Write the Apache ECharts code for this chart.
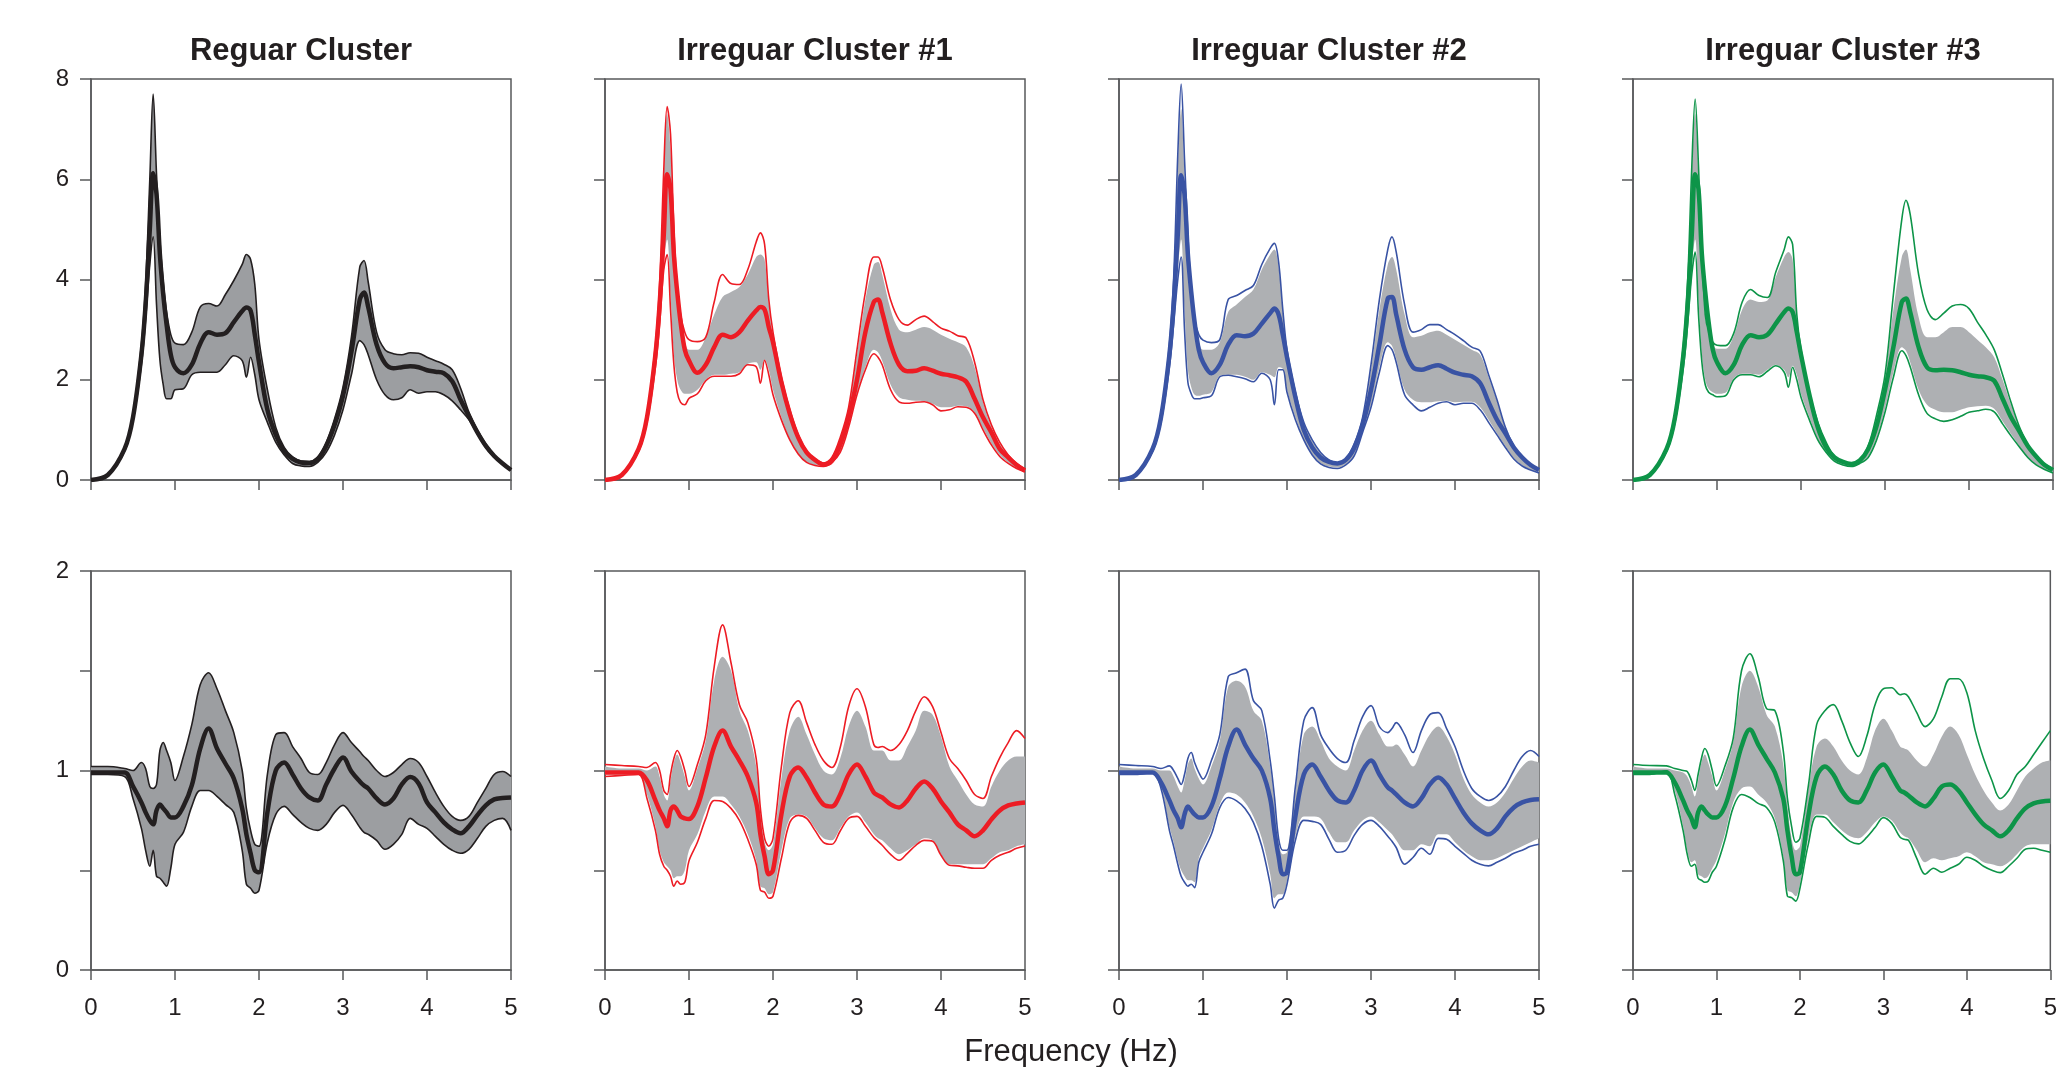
<!DOCTYPE html>
<html>
<head>
<meta charset="utf-8">
<title>Cluster spectra</title>
<script src="https://cdn.jsdelivr.net/npm/echarts@6/dist/echarts.min.js"></script>
<style>
  html, body { margin: 0; padding: 0; background: #fff; }
  #chart { width: 2060px; height: 1067px; }
</style>
</head>
<body>
<div id="chart"></div>
<script>
// frequency grid (Hz) - every curve below is sampled on it
const freq = [0, 0.2, 0.4, 0.5, 0.6, 0.65, 0.7, 0.74, 0.78, 0.82,
    0.86, 0.9, 0.95, 1.0, 1.1, 1.2, 1.3, 1.4, 1.5, 1.6,
    1.7, 1.8, 1.85, 1.9, 1.95, 2.0, 2.1, 2.2, 2.3, 2.4,
    2.5, 2.6, 2.7, 2.8, 2.9, 3.0, 3.1, 3.2, 3.25, 3.3,
    3.4, 3.5, 3.6, 3.7, 3.8, 3.9, 4.0, 4.1, 4.2, 4.3,
    4.4, 4.5, 4.6, 4.7, 4.8, 4.9, 5.0];

const titles = ["Reguar Cluster", "Irreguar Cluster #1", "Irreguar Cluster #2", "Irreguar Cluster #3"];
const xTicks = [0, 1, 2, 3, 4, 5];
const topTicks = [0, 2, 4, 6, 8];
const botTicks = [0, 1, 2];

// ===== top row =====
// Reguar Cluster
const regTopMean = [0, 0.1, 0.62, 1.25, 2.5, 3.5, 5.0, 6.12, 5.7, 4.5,
    3.7, 3.1, 2.5, 2.25, 2.13, 2.3, 2.72, 2.95, 2.9, 2.93,
    3.15, 3.37, 3.44, 3.38, 2.9, 2.35, 1.4, 0.9, 0.58, 0.42,
    0.35, 0.34, 0.42, 0.68, 1.1, 1.68, 2.55, 3.6, 3.74, 3.45,
    2.7, 2.33, 2.23, 2.25, 2.27, 2.25, 2.19, 2.16, 2.13, 1.97,
    1.6, 1.27, 0.95, 0.68, 0.48, 0.33, 0.2];
const regTopHi = [0, 0.1, 0.64, 1.3, 2.7, 3.9, 6.0, 7.7, 6.1, 4.8,
    3.95, 3.35, 2.9, 2.73, 2.7, 2.95, 3.45, 3.52, 3.47, 3.7,
    3.98, 4.3, 4.5, 4.4, 3.9, 2.8, 1.8, 1.05, 0.65, 0.46,
    0.38, 0.37, 0.46, 0.75, 1.22, 1.85, 2.85, 4.25, 4.38, 3.95,
    2.95, 2.6, 2.52, 2.5, 2.54, 2.53, 2.45, 2.38, 2.31, 2.2,
    1.83, 1.35, 1.0, 0.72, 0.5, 0.35, 0.22];
const regTopLo = [0, 0.09, 0.58, 1.18, 2.3, 3.2, 4.3, 4.85, 3.5, 2.4,
    1.9, 1.62, 1.62, 1.8, 1.82, 2.1, 2.15, 2.15, 2.15, 2.3,
    2.48, 2.38, 2.05, 2.45, 2.1, 1.6, 1.15, 0.75, 0.5, 0.33,
    0.28, 0.27, 0.35, 0.55, 0.9, 1.4, 2.1, 2.78, 2.7, 2.5,
    2.0, 1.7, 1.6, 1.64, 1.8, 1.73, 1.76, 1.76, 1.7, 1.58,
    1.4, 1.2, 0.92, 0.65, 0.46, 0.32, 0.19];

// Irreguar Cluster #1
const ir1TopMean = [0, 0.1, 0.62, 1.25, 2.5, 3.5, 4.9, 6.1, 5.8, 4.5,
    3.75, 3.15, 2.6, 2.38, 2.14, 2.3, 2.65, 2.9, 2.85, 2.95,
    3.18, 3.38, 3.45, 3.4, 3.05, 2.75, 1.95, 1.32, 0.85, 0.55,
    0.4, 0.31, 0.38, 0.7, 1.25, 2.0, 2.95, 3.55, 3.6, 3.35,
    2.72, 2.3, 2.17, 2.18, 2.23, 2.18, 2.12, 2.09, 2.05, 1.96,
    1.62, 1.25, 0.95, 0.62, 0.45, 0.3, 0.19];
const ir1TopHi = [0, 0.1, 0.64, 1.3, 2.7, 3.9, 6.2, 7.45, 6.9, 5.0,
    3.85, 3.3, 2.95, 2.8, 2.76, 2.85, 3.55, 4.1, 3.92, 3.9,
    4.2, 4.75, 4.93, 4.7, 3.6, 2.95, 2.05, 1.4, 0.9, 0.58,
    0.42, 0.34, 0.45, 0.85, 1.45, 2.6, 3.75, 4.45, 4.45, 4.25,
    3.59, 3.2, 3.09, 3.2, 3.27, 3.16, 3.03, 2.97, 2.88, 2.83,
    2.35, 1.6, 1.1, 0.75, 0.5, 0.33, 0.22];
const ir1TopLo = [0, 0.09, 0.57, 1.15, 2.25, 3.1, 4.2, 4.5, 3.4, 2.3,
    1.75, 1.55, 1.5, 1.63, 1.72, 1.98, 2.07, 2.07, 2.07, 2.12,
    2.3, 2.26, 1.93, 2.39, 2.1, 1.7, 1.2, 0.8, 0.52, 0.35,
    0.29, 0.27, 0.35, 0.55, 1.05, 1.7, 2.2, 2.52, 2.45, 2.3,
    1.8, 1.56, 1.53, 1.55, 1.56, 1.5, 1.38, 1.4, 1.46, 1.45,
    1.33, 1.0, 0.7, 0.47, 0.33, 0.23, 0.16];
// extent of the gray individual curves
const ir1TopBandHi = [0, 0.1, 0.63, 1.28, 2.65, 3.8, 6.0, 7.3, 6.6, 4.9,
    3.7, 3.1, 2.75, 2.6, 2.6, 2.85, 3.3, 3.65, 3.75, 3.85,
    4.1, 4.45, 4.5, 4.4, 3.5, 2.85, 2.0, 1.38, 0.88, 0.57,
    0.41, 0.33, 0.43, 0.82, 1.42, 2.5, 3.6, 4.3, 4.35, 4.1,
    3.4, 3.0, 2.95, 3.0, 3.05, 3.0, 2.9, 2.82, 2.75, 2.65,
    2.25, 1.55, 1.06, 0.72, 0.49, 0.32, 0.21];
const ir1TopBandLo = [0, 0.09, 0.58, 1.17, 2.3, 3.2, 4.4, 4.8, 3.7, 2.5,
    2.0, 1.8, 1.72, 1.72, 1.8, 2.0, 2.1, 2.1, 2.12, 2.15,
    2.32, 2.35, 2.2, 2.4, 2.2, 1.8, 1.25, 0.82, 0.53, 0.36,
    0.3, 0.28, 0.36, 0.58, 1.08, 1.72, 2.25, 2.6, 2.55, 2.38,
    1.9, 1.65, 1.6, 1.58, 1.57, 1.52, 1.45, 1.45, 1.48, 1.47,
    1.35, 1.03, 0.73, 0.5, 0.35, 0.24, 0.17];

// Irreguar Cluster #2
const ir2TopMean = [0, 0.1, 0.62, 1.25, 2.5, 3.5, 4.9, 6.08, 5.7, 4.5,
    3.75, 3.15, 2.6, 2.35, 2.13, 2.3, 2.7, 2.89, 2.87, 2.92,
    3.12, 3.33, 3.42, 3.3, 2.9, 2.45, 1.65, 1.0, 0.65, 0.45,
    0.36, 0.33, 0.4, 0.64, 1.1, 1.8, 2.7, 3.62, 3.65, 3.3,
    2.6, 2.25, 2.2, 2.25, 2.29, 2.22, 2.14, 2.1, 2.07, 1.93,
    1.55, 1.2, 0.93, 0.65, 0.45, 0.3, 0.2];
const ir2TopHi = [0, 0.1, 0.64, 1.3, 2.7, 4.0, 6.5, 7.9, 6.4, 4.9,
    3.75, 3.2, 2.9, 2.79, 2.74, 2.8, 3.6, 3.68, 3.78, 3.88,
    4.3, 4.62, 4.72, 4.35, 3.4, 2.6, 1.75, 1.15, 0.8, 0.55,
    0.4, 0.34, 0.42, 0.72, 1.25, 2.3, 3.6, 4.6, 4.85, 4.55,
    3.5, 2.95, 3.0, 3.1, 3.1, 3.0, 2.9, 2.78, 2.65, 2.57,
    2.1, 1.6, 1.05, 0.68, 0.45, 0.3, 0.21];
const ir2TopLo = [0, 0.09, 0.57, 1.15, 2.25, 3.1, 4.0, 4.45, 3.0, 1.95,
    1.72, 1.62, 1.62, 1.64, 1.68, 2.06, 2.09, 2.06, 2.02, 1.96,
    2.13, 2.0, 1.5, 2.2, 2.2, 1.75, 1.2, 0.8, 0.5, 0.32,
    0.25, 0.23, 0.3, 0.48, 0.95, 1.45, 2.15, 2.68, 2.6, 2.35,
    1.7, 1.5, 1.38, 1.45, 1.53, 1.56, 1.5, 1.53, 1.53, 1.4,
    1.15, 0.9, 0.65, 0.42, 0.28, 0.2, 0.14];
const ir2TopBandHi = [0, 0.1, 0.63, 1.28, 2.65, 3.9, 6.2, 7.4, 6.1, 4.75,
    3.65, 3.05, 2.75, 2.6, 2.6, 2.75, 3.35, 3.5, 3.65, 3.8,
    4.2, 4.5, 4.6, 4.25, 3.35, 2.55, 1.72, 1.12, 0.78, 0.53,
    0.39, 0.33, 0.41, 0.7, 1.22, 2.2, 3.4, 4.3, 4.45, 4.2,
    3.3, 2.85, 2.88, 2.95, 2.98, 2.9, 2.8, 2.7, 2.6, 2.5,
    2.05, 1.57, 1.03, 0.67, 0.45, 0.3, 0.21];
const ir2TopBandLo = [0, 0.09, 0.58, 1.17, 2.3, 3.2, 4.2, 4.8, 3.4, 2.2,
    1.85, 1.7, 1.68, 1.7, 1.75, 2.08, 2.1, 2.1, 2.06, 2.0,
    2.15, 2.1, 2.05, 2.25, 2.22, 1.8, 1.25, 0.82, 0.52, 0.34,
    0.27, 0.25, 0.32, 0.5, 0.98, 1.5, 2.25, 2.75, 2.68, 2.42,
    1.8, 1.6, 1.55, 1.55, 1.57, 1.58, 1.55, 1.56, 1.56, 1.45,
    1.2, 0.93, 0.68, 0.44, 0.3, 0.21, 0.15];

// Irreguar Cluster #3
const ir3TopMean = [0, 0.1, 0.62, 1.25, 2.5, 3.5, 4.9, 6.1, 5.8, 4.5,
    3.75, 3.15, 2.6, 2.35, 2.13, 2.3, 2.7, 2.89, 2.85, 2.9,
    3.12, 3.35, 3.42, 3.35, 2.95, 2.5, 1.7, 1.05, 0.65, 0.45,
    0.36, 0.32, 0.39, 0.62, 1.08, 1.8, 2.65, 3.55, 3.62, 3.35,
    2.65, 2.25, 2.19, 2.2, 2.19, 2.15, 2.1, 2.07, 2.05, 1.98,
    1.62, 1.25, 0.97, 0.68, 0.47, 0.3, 0.2];
const ir3TopHi = [0, 0.1, 0.64, 1.3, 2.7, 3.95, 6.25, 7.6, 6.25, 4.5,
    3.3, 2.95, 2.75, 2.69, 2.68, 2.93, 3.55, 3.8, 3.68, 3.64,
    4.15, 4.6, 4.85, 4.7, 3.3, 2.6, 1.75, 1.15, 0.75, 0.47,
    0.37, 0.33, 0.4, 0.68, 1.3, 2.1, 3.7, 5.2, 5.58, 5.3,
    4.1, 3.4, 3.2, 3.33, 3.47, 3.5, 3.42, 3.15, 2.9, 2.6,
    2.1, 1.55, 1.06, 0.7, 0.47, 0.32, 0.22];
const ir3TopLo = [0, 0.09, 0.57, 1.15, 2.25, 3.1, 4.1, 4.55, 3.3, 2.35,
    1.9, 1.75, 1.7, 1.66, 1.68, 2.0, 2.1, 2.1, 2.06, 2.17,
    2.28, 2.15, 1.85, 2.25, 2.0, 1.65, 1.2, 0.8, 0.55, 0.37,
    0.3, 0.27, 0.33, 0.45, 0.8, 1.35, 2.05, 2.58, 2.48, 2.26,
    1.7, 1.33, 1.22, 1.17, 1.2, 1.27, 1.35, 1.38, 1.41, 1.36,
    1.12, 0.88, 0.66, 0.45, 0.3, 0.21, 0.14];
const ir3TopBandHi = [0, 0.1, 0.63, 1.28, 2.65, 3.85, 6.05, 7.3, 6.0, 4.4,
    3.25, 2.9, 2.7, 2.62, 2.62, 2.88, 3.4, 3.6, 3.55, 3.58,
    4.05, 4.45, 4.55, 4.4, 3.25, 2.55, 1.72, 1.12, 0.73, 0.46,
    0.36, 0.32, 0.39, 0.66, 1.25, 2.05, 3.4, 4.45, 4.6, 4.2,
    3.25, 2.85, 2.85, 2.95, 3.05, 3.05, 2.95, 2.8, 2.65, 2.45,
    2.0, 1.5, 1.03, 0.68, 0.46, 0.31, 0.21];
const ir3TopBandLo = [0, 0.09, 0.58, 1.17, 2.3, 3.2, 4.3, 4.8, 3.6, 2.5,
    2.0, 1.82, 1.75, 1.72, 1.74, 2.03, 2.12, 2.12, 2.1, 2.2,
    2.3, 2.2, 2.05, 2.28, 2.1, 1.72, 1.25, 0.82, 0.56, 0.38,
    0.31, 0.28, 0.34, 0.48, 0.85, 1.42, 2.15, 2.65, 2.58, 2.35,
    1.8, 1.5, 1.4, 1.35, 1.35, 1.4, 1.45, 1.47, 1.48, 1.42,
    1.17, 0.92, 0.68, 0.46, 0.31, 0.22, 0.15];

// ===== bottom row =====
// Reguar Cluster
const regBotMean = [0.99, 0.99, 0.99, 0.92, 0.84, 0.79, 0.75, 0.73, 0.8, 0.83,
    0.81, 0.79, 0.765, 0.765, 0.82, 0.925, 1.11, 1.21, 1.11, 1.035,
    0.96, 0.81, 0.68, 0.585, 0.5, 0.49, 0.79, 1.0, 1.04, 0.98,
    0.91, 0.865, 0.85, 0.93, 1.01, 1.065, 0.995, 0.945, 0.925, 0.91,
    0.86, 0.83, 0.86, 0.93, 0.967, 0.935, 0.84, 0.79, 0.74, 0.705,
    0.685, 0.72, 0.776, 0.825, 0.855, 0.862, 0.865];
const regBotHi = [1.02, 1.02, 1.01, 1.0, 1.04, 1.01, 0.92, 0.91, 0.93, 1.1,
    1.14, 1.1, 1.04, 0.95, 1.07, 1.23, 1.43, 1.49, 1.41, 1.3,
    1.19, 1.0, 0.81, 0.7, 0.63, 0.62, 0.98, 1.18, 1.19, 1.12,
    1.06, 0.99, 0.98, 1.04, 1.13, 1.19, 1.14, 1.095, 1.07, 1.05,
    1.0, 0.97, 0.99, 1.03, 1.06, 1.04, 0.97, 0.89, 0.82, 0.77,
    0.75, 0.77, 0.84, 0.91, 0.98, 0.995, 0.97];
const regBotLo = [0.98, 0.98, 0.97, 0.86, 0.71, 0.6, 0.52, 0.6, 0.47, 0.46,
    0.44, 0.42, 0.51, 0.63, 0.69, 0.82, 0.9, 0.9, 0.87, 0.83,
    0.79, 0.6, 0.43, 0.41, 0.385, 0.4, 0.64, 0.78, 0.82, 0.78,
    0.74, 0.71, 0.7, 0.73, 0.79, 0.825, 0.78, 0.715, 0.69, 0.68,
    0.65, 0.605, 0.63, 0.68, 0.76, 0.73, 0.71, 0.67, 0.63, 0.6,
    0.585, 0.605, 0.66, 0.72, 0.75, 0.76, 0.7];

// Irreguar Cluster #1
const ir1BotMean = [0.99, 0.99, 0.99, 0.95, 0.85, 0.8, 0.76, 0.72, 0.8, 0.82,
    0.8, 0.77, 0.76, 0.757, 0.82, 0.965, 1.12, 1.2, 1.12, 1.05,
    0.97, 0.84, 0.68, 0.57, 0.48, 0.5, 0.78, 0.97, 1.015, 0.965,
    0.89, 0.83, 0.82, 0.88, 0.98, 1.03, 0.97, 0.89, 0.875, 0.865,
    0.83, 0.815, 0.85, 0.91, 0.945, 0.91, 0.845, 0.79, 0.73, 0.7,
    0.67, 0.7, 0.755, 0.8, 0.825, 0.835, 0.84];
const ir1BotHi = [1.03, 1.025, 1.02, 1.015, 1.04, 1.0, 0.9, 0.88, 0.98, 1.06,
    1.1, 1.07, 1.0, 0.92, 1.03, 1.18, 1.52, 1.73, 1.54, 1.33,
    1.24, 1.06, 0.81, 0.66, 0.62, 0.66, 1.02, 1.29, 1.35, 1.24,
    1.13, 1.05, 1.015, 1.115, 1.32, 1.41, 1.32, 1.13, 1.115, 1.12,
    1.1, 1.13, 1.2, 1.3, 1.37, 1.32, 1.19, 1.06, 1.01, 0.95,
    0.88, 0.86, 0.97, 1.065, 1.14, 1.2, 1.16];
const ir1BotLo = [0.97, 0.975, 0.98, 0.86, 0.7, 0.58, 0.52, 0.5, 0.47, 0.42,
    0.446, 0.43, 0.44, 0.547, 0.64, 0.76, 0.85, 0.845, 0.81, 0.75,
    0.655, 0.53, 0.4, 0.39, 0.36, 0.37, 0.56, 0.74, 0.775, 0.76,
    0.7, 0.64, 0.63, 0.697, 0.76, 0.77, 0.72, 0.664, 0.645, 0.625,
    0.58, 0.55, 0.585, 0.625, 0.65, 0.645, 0.575, 0.525, 0.522, 0.515,
    0.51, 0.51, 0.55, 0.575, 0.59, 0.61, 0.622];
const ir1BotBandHi = [1.02, 1.01, 1.01, 1.0, 1.02, 0.97, 0.88, 0.85, 0.95, 1.04,
    1.08, 1.04, 0.97, 0.9, 1.01, 1.15, 1.45, 1.57, 1.5, 1.3,
    1.2, 1.02, 0.79, 0.64, 0.6, 0.63, 0.96, 1.2, 1.27, 1.18,
    1.08, 1.0, 0.98, 1.06, 1.22, 1.3, 1.22, 1.1, 1.1, 1.1,
    1.05, 1.05, 1.12, 1.2, 1.3, 1.28, 1.17, 1.02, 0.95, 0.88,
    0.83, 0.82, 0.92, 1.0, 1.05, 1.07, 1.07];
const ir1BotBandLo = [0.98, 0.98, 0.98, 0.88, 0.72, 0.6, 0.54, 0.52, 0.5, 0.46,
    0.47, 0.47, 0.5, 0.6, 0.68, 0.8, 0.87, 0.87, 0.83, 0.77,
    0.68, 0.55, 0.42, 0.41, 0.38, 0.39, 0.6, 0.76, 0.78, 0.77,
    0.71, 0.66, 0.65, 0.71, 0.77, 0.79, 0.74, 0.68, 0.66, 0.65,
    0.61, 0.58, 0.6, 0.63, 0.66, 0.65, 0.58, 0.53, 0.53, 0.53,
    0.53, 0.53, 0.56, 0.59, 0.6, 0.62, 0.63];

// Irreguar Cluster #2
const ir2BotMean = [0.99, 0.99, 0.99, 0.94, 0.85, 0.8, 0.76, 0.715, 0.78, 0.82,
    0.8, 0.78, 0.765, 0.765, 0.82, 0.96, 1.12, 1.205, 1.13, 1.06,
    1.0, 0.86, 0.7, 0.57, 0.48, 0.49, 0.77, 0.98, 1.03, 0.97,
    0.9, 0.85, 0.84, 0.9, 1.0, 1.05, 0.98, 0.915, 0.9, 0.88,
    0.84, 0.82, 0.86, 0.93, 0.965, 0.93, 0.86, 0.79, 0.735, 0.7,
    0.68, 0.71, 0.77, 0.815, 0.84, 0.852, 0.856];
const ir2BotHi = [1.03, 1.025, 1.02, 1.01, 1.023, 1.0, 0.96, 0.93, 0.98, 1.06,
    1.09, 1.04, 0.99, 0.957, 1.05, 1.18, 1.47, 1.49, 1.508, 1.35,
    1.3, 1.05, 0.87, 0.66, 0.6, 0.6, 0.92, 1.25, 1.315, 1.18,
    1.11, 1.06, 1.04, 1.15, 1.27, 1.325, 1.22, 1.19, 1.21, 1.24,
    1.18, 1.09, 1.2, 1.28, 1.29, 1.21, 1.12, 1.0, 0.91, 0.87,
    0.85, 0.87, 0.92, 1.0, 1.07, 1.1, 1.07];
const ir2BotLo = [0.98, 0.98, 0.99, 0.91, 0.7, 0.62, 0.53, 0.47, 0.44, 0.42,
    0.43, 0.413, 0.54, 0.59, 0.68, 0.814, 0.865, 0.848, 0.81, 0.74,
    0.62, 0.43, 0.31, 0.35, 0.36, 0.43, 0.65, 0.75, 0.745, 0.73,
    0.655, 0.59, 0.6, 0.675, 0.73, 0.75, 0.72, 0.67, 0.645, 0.614,
    0.53, 0.564, 0.61, 0.58, 0.66, 0.655, 0.62, 0.585, 0.55, 0.53,
    0.522, 0.54, 0.56, 0.585, 0.6, 0.62, 0.63];
const ir2BotBandHi = [1.02, 1.01, 1.01, 1.0, 1.0, 0.97, 0.92, 0.89, 0.95, 1.03,
    1.06, 1.01, 0.96, 0.93, 1.02, 1.15, 1.42, 1.45, 1.42, 1.3,
    1.25, 1.02, 0.84, 0.64, 0.58, 0.59, 0.9, 1.18, 1.22, 1.15,
    1.06, 1.02, 1.0, 1.1, 1.2, 1.25, 1.18, 1.12, 1.12, 1.13,
    1.08, 1.02, 1.1, 1.18, 1.22, 1.17, 1.08, 0.96, 0.88, 0.84,
    0.82, 0.84, 0.89, 0.96, 1.02, 1.05, 1.04];
const ir2BotBandLo = [0.98, 0.98, 0.99, 0.92, 0.72, 0.64, 0.55, 0.5, 0.47, 0.45,
    0.45, 0.44, 0.56, 0.61, 0.7, 0.83, 0.89, 0.88, 0.84, 0.77,
    0.66, 0.48, 0.36, 0.38, 0.38, 0.45, 0.67, 0.77, 0.77, 0.76,
    0.69, 0.64, 0.64, 0.7, 0.75, 0.77, 0.74, 0.7, 0.68, 0.65,
    0.6, 0.6, 0.63, 0.62, 0.68, 0.68, 0.64, 0.6, 0.57, 0.55,
    0.55, 0.56, 0.58, 0.6, 0.62, 0.64, 0.66];

// Irreguar Cluster #3
const ir3BotMean = [0.99, 0.99, 0.99, 0.94, 0.85, 0.8, 0.76, 0.715, 0.79, 0.82,
    0.8, 0.78, 0.765, 0.765, 0.82, 0.96, 1.12, 1.205, 1.13, 1.06,
    0.99, 0.86, 0.7, 0.57, 0.48, 0.49, 0.77, 0.97, 1.02, 0.98,
    0.9, 0.85, 0.84, 0.9, 0.99, 1.03, 0.97, 0.9, 0.89, 0.875,
    0.84, 0.82, 0.86, 0.92, 0.93, 0.9, 0.84, 0.78, 0.73, 0.7,
    0.67, 0.7, 0.76, 0.81, 0.835, 0.845, 0.848];
const ir3BotHi = [1.03, 1.025, 1.023, 1.01, 1.0, 0.995, 0.95, 0.9, 0.98, 1.06,
    1.11, 1.08, 1.0, 0.923, 1.02, 1.16, 1.5, 1.585, 1.47, 1.31,
    1.3, 1.1, 0.86, 0.72, 0.64, 0.66, 0.92, 1.23, 1.3, 1.33,
    1.25, 1.14, 1.07, 1.17, 1.33, 1.41, 1.415, 1.38, 1.385, 1.37,
    1.29, 1.22, 1.26, 1.37, 1.46, 1.46, 1.39, 1.2, 1.06, 0.95,
    0.86, 0.9, 0.98, 1.02, 1.08, 1.14, 1.2];
const ir3BotLo = [0.98, 0.98, 0.998, 0.88, 0.7, 0.58, 0.52, 0.53, 0.46, 0.45,
    0.44, 0.445, 0.49, 0.52, 0.65, 0.814, 0.88, 0.865, 0.835, 0.815,
    0.74, 0.55, 0.37, 0.363, 0.345, 0.41, 0.63, 0.77, 0.765, 0.72,
    0.68, 0.645, 0.632, 0.665, 0.714, 0.764, 0.735, 0.665, 0.655, 0.65,
    0.56, 0.48, 0.51, 0.49, 0.51, 0.53, 0.565, 0.55, 0.52, 0.5,
    0.488, 0.52, 0.56, 0.605, 0.61, 0.6, 0.59];
const ir3BotBandHi = [1.02, 1.01, 1.01, 1.0, 0.99, 0.97, 0.92, 0.87, 0.95, 1.04,
    1.08, 1.04, 0.97, 0.9, 1.0, 1.14, 1.42, 1.5, 1.42, 1.28,
    1.22, 1.03, 0.82, 0.66, 0.6, 0.62, 0.9, 1.12, 1.16, 1.12,
    1.05, 1.0, 0.98, 1.06, 1.2, 1.26, 1.2, 1.12, 1.11, 1.1,
    1.05, 1.02, 1.08, 1.17, 1.22, 1.18, 1.08, 0.98, 0.9, 0.84,
    0.8, 0.83, 0.9, 0.97, 1.01, 1.04, 1.05];
const ir3BotBandLo = [0.98, 0.98, 0.99, 0.9, 0.72, 0.6, 0.54, 0.55, 0.48, 0.47,
    0.46, 0.47, 0.51, 0.55, 0.68, 0.84, 0.91, 0.92, 0.88, 0.84,
    0.76, 0.57, 0.4, 0.39, 0.37, 0.43, 0.66, 0.78, 0.78, 0.74,
    0.7, 0.67, 0.66, 0.69, 0.74, 0.77, 0.75, 0.69, 0.67, 0.66,
    0.6, 0.54, 0.56, 0.55, 0.56, 0.57, 0.59, 0.57, 0.54, 0.53,
    0.52, 0.54, 0.58, 0.62, 0.63, 0.63, 0.63];

// ----- layout / style -----
const FONT = '"Liberation Sans", Arial, Helvetica, sans-serif';
const INK = "#231f20";
const FRAME = "#58595b";
const GRAY = "#aeb0b3";

const panels = [
    { color: "#231f20", band: "#9c9ea1",
      top: { mean: regTopMean, hi: regTopHi, lo: regTopLo, bandHi: regTopHi, bandLo: regTopLo },
      bot: { mean: regBotMean, hi: regBotHi, lo: regBotLo, bandHi: regBotHi, bandLo: regBotLo } },
    { color: "#ed1c24", band: GRAY,
      top: { mean: ir1TopMean, hi: ir1TopHi, lo: ir1TopLo, bandHi: ir1TopBandHi, bandLo: ir1TopBandLo },
      bot: { mean: ir1BotMean, hi: ir1BotHi, lo: ir1BotLo, bandHi: ir1BotBandHi, bandLo: ir1BotBandLo } },
    { color: "#3953a4", band: GRAY,
      top: { mean: ir2TopMean, hi: ir2TopHi, lo: ir2TopLo, bandHi: ir2TopBandHi, bandLo: ir2TopBandLo },
      bot: { mean: ir2BotMean, hi: ir2BotHi, lo: ir2BotLo, bandHi: ir2BotBandHi, bandLo: ir2BotBandLo } },
    { color: "#0d9448", band: GRAY,
      top: { mean: ir3TopMean, hi: ir3TopHi, lo: ir3TopLo, bandHi: ir3TopBandHi, bandLo: ir3TopBandLo },
      bot: { mean: ir3BotMean, hi: ir3BotHi, lo: ir3BotLo, bandHi: ir3BotBandHi, bandLo: ir3BotBandLo } }
];

const PANEL_LEFT = 91, PANEL_STEP = 514, PANEL_W = 420;
const rows = [
    { top: 79, height: 401, max: 8, interval: 2, labels: topTicks },
    { top: 571, height: 399, max: 2, interval: 0.5, labels: botTicks }
];

const zip = ys => freq.map((f, i) => [f, ys[i]]);
// value first, frequency second: with two value axes echarts stacks the
// first numeric dimension, so the band series keep y in column 0
const zipYX = ys => freq.map((f, i) => [ys[i], f]);

let grids = [], xAxes = [], yAxes = [], series = [], titleList = [];

panels.forEach((p, c) => {
    const left = PANEL_LEFT + PANEL_STEP * c;
    titleList.push({
        text: titles[c], left: left + PANEL_W / 2, top: 51, padding: 0,
        textAlign: "center", textVerticalAlign: "middle",
        textStyle: { fontFamily: FONT, fontSize: 31, fontWeight: "bold", color: INK }
    });

    [p.top, p.bot].forEach((d, r) => {
        const row = rows[r];
        const idx = grids.length;
        for (const k of ["mean", "hi", "lo", "bandHi", "bandLo"]) {
            if (d[k].length !== freq.length) throw new Error(`panel ${c}/${r} ${k}: ${d[k].length}`);
        }
        grids.push({
            left, top: row.top, width: PANEL_W, height: row.height,
            show: true, borderColor: FRAME, borderWidth: 1.5, backgroundColor: "transparent"
        });
        xAxes.push({
            gridIndex: idx, type: "value", min: 0, max: 5, interval: 1,
            axisLine: { show: true, onZero: false, lineStyle: { color: FRAME, width: 1.5 } },
            axisTick: { show: true, length: 10, lineStyle: { color: FRAME, width: 1.5 } },
            axisLabel: {
                show: r === 1, margin: 26, fontSize: 24, fontFamily: FONT, color: INK,
                formatter: v => (xTicks.includes(v) ? String(v) : "")
            },
            splitLine: { show: false }
        });
        yAxes.push({
            gridIndex: idx, type: "value", min: 0, max: row.max, interval: row.interval,
            axisLine: { show: true, lineStyle: { color: FRAME, width: 1.5 } },
            axisTick: { show: true, length: 11, lineStyle: { color: FRAME, width: 1.5 } },
            axisLabel: {
                show: c === 0, margin: 22, fontSize: 24, fontFamily: FONT, color: INK,
                formatter: v => (row.labels.includes(v) ? String(v) : "")
            },
            splitLine: { show: false }
        });

        const base = {
            type: "line", xAxisIndex: idx, yAxisIndex: idx,
            symbol: "none", showSymbol: false, smooth: 0.35, silent: true
        };
        // gray band made from the many individual spectra
        series.push(Object.assign({}, base, {
            data: zipYX(d.bandLo), encode: { x: 1, y: 0 },
            stack: "band" + idx, z: 1,
            lineStyle: { width: 0, opacity: 0 }
        }));
        series.push(Object.assign({}, base, {
            data: zipYX(d.bandHi.map((v, i) => +(v - d.bandLo[i]).toFixed(4))),
            encode: { x: 1, y: 0 },
            stack: "band" + idx, z: 1,
            lineStyle: { width: 0, opacity: 0 },
            areaStyle: { color: p.band, opacity: 1 }
        }));
        // envelopes
        series.push(Object.assign({}, base, { data: zip(d.hi), z: 2, lineStyle: { color: p.color, width: 1.6 } }));
        series.push(Object.assign({}, base, { data: zip(d.lo), z: 2, lineStyle: { color: p.color, width: 1.6 } }));
        // cluster mean
        series.push(Object.assign({}, base, { data: zip(d.mean), z: 3, lineStyle: { color: p.color, width: 4.5 } }));
    });
});

titleList.push({
    text: "Frequency (Hz)", left: 1071, top: 1052, padding: 0,
    textAlign: "center", textVerticalAlign: "middle",
    textStyle: { fontFamily: FONT, fontSize: 31, fontWeight: "normal", color: INK }
});

const chart = echarts.init(document.getElementById("chart"), null, { renderer: "canvas" });
chart.setOption({
    animation: false,
    backgroundColor: "#ffffff",
    title: titleList,
    grid: grids,
    xAxis: xAxes,
    yAxis: yAxes,
    series
});
</script>
</body>
</html>
